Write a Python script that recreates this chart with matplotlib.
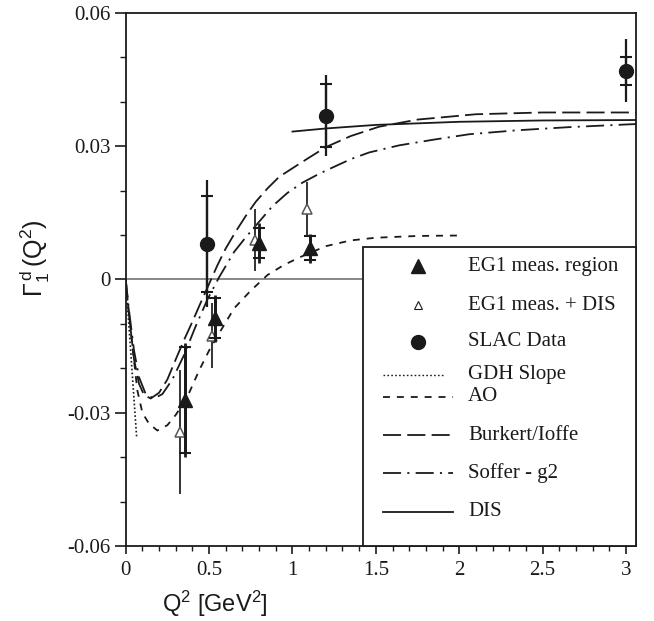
import matplotlib
matplotlib.use("Agg")
import matplotlib.pyplot as plt
from matplotlib.lines import Line2D
from matplotlib.patches import Rectangle

# ---- data -------------------------------------------------------------
# EG1, measured resonance region (filled triangles)
eg1_q2 = [0.357, 0.537, 0.800, 1.108]
eg1_val = [-0.0272, -0.0087, 0.0083, 0.0070]
eg1_stat = [0.0119, 0.0045, 0.0034, 0.0027]
eg1_tot = [0.0128, 0.0053, 0.0045, 0.0032]

# EG1 measured region + DIS extrapolation (open triangles)
eg1dis_q2 = [0.327, 0.517, 0.778, 1.088]
eg1dis_val = [-0.0343, -0.0127, 0.0089, 0.0158]
eg1dis_err = [0.0140, 0.0073, 0.0069, 0.0062]

# SLAC data (filled circles)
slac_q2 = [0.49, 1.20, 3.00]
slac_val = [0.0080, 0.0369, 0.0470]
slac_stat = [0.0109, 0.0071, 0.0032]
slac_tot = [0.0143, 0.0092, 0.0071]

# model curves
gdh_q2 = [0.0, 0.066]
gdh_val = [0.0, -0.0357]

ao_q2 = [0.0, 0.015, 0.04, 0.07, 0.10, 0.14, 0.19, 0.25, 0.30, 0.37, 0.44,
         0.50, 0.57, 0.65, 0.75, 0.85, 0.95, 1.05, 1.20, 1.35, 1.50, 1.75, 2.0]
ao_val = [0.0, -0.0060, -0.0150, -0.0250, -0.0300, -0.0325, -0.0340, -0.0328,
          -0.0305, -0.0264, -0.0205, -0.0160, -0.0115, -0.0065, -0.0025, 0.0010,
          0.0033, 0.0051, 0.0075, 0.0088, 0.0094, 0.0098, 0.0099]

burkert_q2 = [0.0, 0.02, 0.05, 0.08, 0.11, 0.15, 0.20, 0.25, 0.30, 0.35, 0.40,
              0.45, 0.50, 0.55, 0.60, 0.66, 0.72, 0.78, 0.85, 0.92, 1.06, 1.20,
              1.35, 1.52, 1.75, 2.10, 2.50, 3.06]
burkert_val = [0.0, -0.0080, -0.0180, -0.0235, -0.0260, -0.0268, -0.0255,
               -0.0225, -0.0180, -0.0136, -0.0095, -0.0052, -0.0010, 0.0032,
               0.0070, 0.0108, 0.0143, 0.0175, 0.0205, 0.0231, 0.0265, 0.0298,
               0.0323, 0.0344, 0.0360, 0.0372, 0.0376, 0.0376]

soffer_q2 = [0.0, 0.02, 0.05, 0.08, 0.12, 0.17, 0.22, 0.28, 0.35, 0.42, 0.49,
             0.56, 0.65, 0.72, 0.80, 0.88, 0.97, 1.06, 1.16, 1.24, 1.35, 1.46,
             1.64, 1.85, 2.06, 2.35, 2.66, 3.06]
soffer_val = [0.0, -0.0070, -0.0160, -0.0220, -0.0258, -0.0268, -0.0258,
              -0.0225, -0.0170, -0.0105, -0.0045, 0.0005, 0.0062, 0.0095,
              0.0130, 0.0165, 0.0195, 0.0218, 0.0238, 0.0252, 0.0271, 0.0286,
              0.0302, 0.0315, 0.0327, 0.0336, 0.0343, 0.0350]

dis_q2 = [1.0, 1.2, 1.5, 2.0, 2.5, 3.06]
dis_val = [0.0333, 0.0340, 0.0348, 0.0355, 0.0358, 0.0359]

x_ticks = [0, 0.5, 1, 1.5, 2, 2.5, 3]
x_ticklabels = ["0", "0.5", "1", "1.5", "2", "2.5", "3"]
y_ticks = [-0.06, -0.03, 0, 0.03, 0.06]
y_ticklabels = ["-0.06", "-0.03", "0", "0.03", "0.06"]

legend_labels = ["EG1 meas. region", "EG1 meas. + DIS", "SLAC Data",
                 "GDH Slope", "AO", "Burkert/Ioffe", "Soffer - g2", "DIS"]

# ---- style ------------------------------------------------------------
plt.rcParams["lines.scale_dashes"] = False
plt.rcParams["mathtext.fontset"] = "custom"
plt.rcParams["mathtext.rm"] = "Liberation Sans"
plt.rcParams["mathtext.it"] = "Liberation Sans"
plt.rcParams["mathtext.bf"] = "Liberation Sans:bold"
SERIF = ["Liberation Serif", "DejaVu Serif"]
SANS = ["Liberation Sans", "DejaVu Sans"]
INK = "#1a1a1a"
LW = 1.3
LS_GDH = (0, (1.2, 1.6))
LS_AO = (0, (5, 5))
LS_BURKERT = (0, (13, 4.5))
LS_SOFFER = (0, (13, 4.5, 1.5, 4.5))

fig = plt.figure(figsize=(6.54, 6.21), dpi=100)
ax = fig.add_axes([0.1922, 0.1208, 0.7803, 0.8583])

ax.set_xlim(0, 3.06)
ax.set_ylim(-0.06, 0.06)

# zero reference line
ax.axhline(0, color="#7f7f7f", lw=1.3, zorder=1)

# model curves
ax.plot(gdh_q2, gdh_val, color=INK, lw=1.2, ls=LS_GDH, zorder=2)
ax.plot(ao_q2, ao_val, color=INK, lw=LW, ls=LS_AO, zorder=2)
ax.plot(burkert_q2, burkert_val, color=INK, lw=LW, ls=LS_BURKERT, zorder=2)
ax.plot(soffer_q2, soffer_val, color=INK, lw=LW, ls=LS_SOFFER, zorder=2)
ax.plot(dis_q2, dis_val, color=INK, lw=LW, zorder=2)

# open triangles: measured + DIS
ax.errorbar(eg1dis_q2, eg1dis_val, yerr=eg1dis_err, fmt="none",
            ecolor="#333333", elinewidth=1.4, capsize=0, zorder=3)
ax.plot(eg1dis_q2, eg1dis_val, ls="none", marker="^", ms=7.5,
        mfc="white", mec="#555555", mew=1.1, zorder=4)

# filled triangles: measured region
ax.errorbar(eg1_q2, eg1_val, yerr=eg1_tot, fmt="none",
            ecolor=INK, elinewidth=2.0, capsize=0, zorder=5)
ax.errorbar(eg1_q2, eg1_val, yerr=eg1_stat, fmt="none",
            ecolor=INK, elinewidth=2.0, capsize=4.5, capthick=1.5, zorder=5)
ax.plot(eg1_q2, eg1_val, ls="none", marker="^", ms=10,
        mfc=INK, mec=INK, zorder=6)

# SLAC points
ax.errorbar(slac_q2, slac_val, yerr=slac_tot, fmt="none",
            ecolor=INK, elinewidth=1.6, capsize=0, zorder=5)
ax.errorbar(slac_q2, slac_val, yerr=slac_stat, fmt="none",
            ecolor=INK, elinewidth=1.6, capsize=4.5, capthick=1.5, zorder=5)
ax.plot(slac_q2, slac_val, ls="none", marker="o", ms=10,
        mfc=INK, mec=INK, zorder=6)

# axes, ticks
for s in ax.spines.values():
    s.set_linewidth(1.3)
    s.set_color(INK)
ax.set_xticks(x_ticks)
ax.set_xticklabels(x_ticklabels, family=SERIF, fontsize=15)
ax.set_yticks(y_ticks)
ax.set_yticklabels(y_ticklabels, family=SERIF, fontsize=15)
ax.set_xticks([i / 10 for i in range(0, 31)], minor=True)
ax.set_yticks([i / 100 for i in range(-6, 7)], minor=True)
ax.tick_params(axis="x", which="major", direction="out", length=6, width=1.2,
               pad=5, colors=INK)
ax.tick_params(axis="x", which="minor", direction="out", length=3.5, width=1.0,
               colors=INK)
ax.tick_params(axis="y", which="major", direction="out", length=8, width=1.2,
               pad=3, colors=INK)
ax.tick_params(axis="y", which="minor", direction="out", length=4.5, width=1.0,
               colors=INK)

ax.set_xlabel(r"Q$^2$ [GeV$^2$]", family=SANS, fontsize=17, color=INK,
              va="center")
ax.xaxis.set_label_coords(0.175, -0.109)
ax.set_ylabel(r"$\Gamma_1^{\,d}\,(\mathrm{Q}^2)$", fontsize=18, color=INK)
ax.yaxis.set_label_coords(-0.145, 0.54)

# legend box, anchored to the lower-right corner of the axes
box_x0, box_top = 0.465, 0.561
row_y = [0.525, 0.452, 0.383, 0.321, 0.280, 0.208, 0.137, 0.064]
mark_x = 0.573
line_x = [0.504, 0.641]
text_x = 0.671
ax.add_patch(Rectangle((box_x0, 0.0), 1.0 - box_x0, box_top,
                       transform=ax.transAxes, facecolor="white",
                       edgecolor=INK, lw=1.3, zorder=10, clip_on=False))
legend_handles = [
    dict(ls="none", marker="^", ms=10, mfc=INK, mec=INK),
    dict(ls="none", marker="^", ms=6, mfc="white", mec=INK, mew=0.8),
    dict(ls="none", marker="o", ms=10, mfc=INK, mec=INK),
    dict(color=INK, lw=1.0, ls=LS_GDH),
    dict(color=INK, lw=LW, ls=LS_AO),
    dict(color=INK, lw=LW, ls=LS_BURKERT),
    dict(color=INK, lw=LW, ls=LS_SOFFER),
    dict(color=INK, lw=LW, ls="-"),
]
for y, label, style in zip(row_y, legend_labels, legend_handles):
    if "marker" in style:
        xs, ys = [mark_x], [y]
    else:
        end = line_x[1] - (0.02 if style["ls"] == LS_GDH else 0.0)
        xs, ys = [line_x[0], end], [y, y]
    ax.add_line(Line2D(xs, ys, transform=ax.transAxes, zorder=11,
                       clip_on=False, **style))
    ax.text(text_x, y, label, transform=ax.transAxes, family=SERIF,
            fontsize=15, color=INK, va="center", ha="left", zorder=12)

fig.savefig("out.png", dpi=100)
